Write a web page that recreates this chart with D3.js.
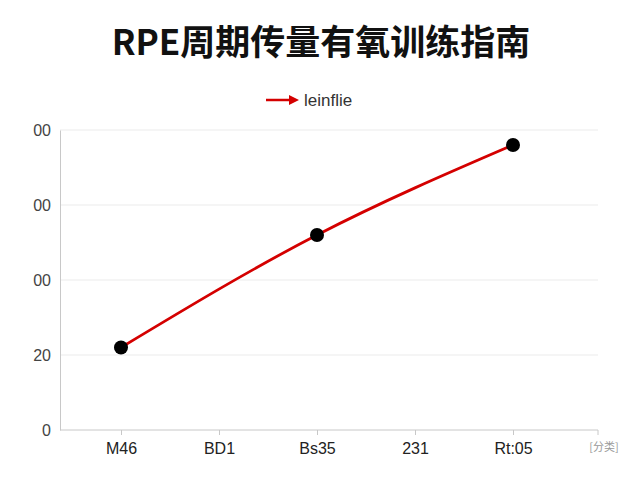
<!DOCTYPE html>
<html lang="zh">
<head>
    <meta charset="UTF-8">
    <title>RPE周期传量有氧训练指南</title>
    <script src="https://d3js.org/d3.v7.min.js"></script>
    <style>
        body { margin: 0; background: #fff; }
        text { font-family: "Noto Sans CJK SC", "Noto Sans", sans-serif; }
    </style>
</head>
<body>
<svg id="chart" width="640" height="480"></svg>

<script>
    const width = 640;
    const height = 480;

    // data
    const categories = ["M46", "BD1", "Bs35", "231", "Rt:05"];
    const seriesName = "leinflie";
    const pointCats = ["M46", "Bs35", "Rt:05"];
    const pointValues = [22, 52, 76];
    const yTicks = [0, 20, 40, 60, 80];
    const yTickLabels = ["0", "20", "00", "00", "00"];
    const endLabel = "[分类]";

    const svg = d3.select("#chart");

    const plotLeft = 60, plotRight = 598, plotTop = 130, plotBottom = 430;

    const x = d3.scalePoint().domain(categories).range([121, 513]);
    const y = d3.scaleLinear().domain([0, 80]).range([plotBottom, plotTop]);

    // title
    svg.append("text")
        .attr("x", width / 2 + 1)
        .attr("y", 55)
        .attr("text-anchor", "middle")
        .style("font-size", "35px")
        .style("font-weight", "bold")
        .style("fill", "#111")
        .text("RPE周期传量有氧训练指南");

    // legend
    const defs = svg.append("defs");
    defs.append("marker")
        .attr("id", "arrow")
        .attr("viewBox", "0 0 10 10")
        .attr("refX", 5).attr("refY", 5)
        .attr("markerWidth", 4).attr("markerHeight", 4)
        .attr("orient", "auto")
        .append("path")
        .attr("d", "M0,0L10,5L0,10z")
        .attr("fill", "#d40000");

    svg.append("line")
        .attr("x1", 266).attr("x2", 294)
        .attr("y1", 100).attr("y2", 100)
        .attr("stroke", "#d40000")
        .attr("stroke-width", 2.5)
        .attr("marker-end", "url(#arrow)");
    svg.append("text")
        .attr("x", 304).attr("y", 106)
        .style("font-size", "17px")
        .style("fill", "#333")
        .style("font-family", "'Liberation Sans', Arial, sans-serif")
        .text(seriesName);

    // gridlines
    svg.append("g")
        .selectAll("line")
        .data(yTicks.slice(1))
        .enter()
        .append("line")
        .attr("x1", plotLeft).attr("x2", plotRight)
        .attr("y1", d => y(d)).attr("y2", d => y(d))
        .attr("stroke", "#ebebeb");

    // y axis
    const yAxis = svg.append("g")
        .attr("transform", `translate(${plotLeft},0)`)
        .call(d3.axisLeft(y).tickValues(yTicks).tickSize(0).tickPadding(9)
            .tickFormat((d, i) => yTickLabels[i]));
    yAxis.select(".domain").attr("stroke", "#c8c8c8");
    yAxis.selectAll("text")
        .style("font-size", "16px")
        .style("fill", "#444")
        .style("font-family", "'Liberation Sans', Arial, sans-serif");

    // x axis
    const xAxis = svg.append("g")
        .attr("transform", `translate(0,${plotBottom})`)
        .call(d3.axisBottom(x).tickSize(5).tickPadding(8));
    xAxis.select(".domain").remove();
    xAxis.append("line")
        .attr("x1", plotLeft).attr("x2", plotRight)
        .attr("stroke", "#c8c8c8");
    xAxis.selectAll(".tick line").attr("stroke", "#c8c8c8");
    xAxis.selectAll("text")
        .style("font-size", "16px")
        .style("fill", "#222")
        .style("font-family", "'Liberation Sans', Arial, sans-serif");

    // end tick + label
    xAxis.append("line")
        .attr("x1", plotRight).attr("x2", plotRight)
        .attr("y1", 0).attr("y2", 5)
        .attr("stroke", "#c8c8c8");
    xAxis.append("text")
        .attr("x", plotRight + 6).attr("y", 21)
        .attr("text-anchor", "middle")
        .style("font-size", "11px")
        .style("fill", "#999")
        .text(endLabel);

    // line + markers
    const pts = pointCats.map((c, i) => [x(c), y(pointValues[i])]);
    const line = d3.line().curve(d3.curveMonotoneX);

    svg.append("path")
        .attr("d", line(pts))
        .attr("fill", "none")
        .attr("stroke", "#d40000")
        .attr("stroke-width", 2.8);

    svg.append("g")
        .selectAll("circle")
        .data(pts)
        .enter()
        .append("circle")
        .attr("cx", d => d[0])
        .attr("cy", d => d[1])
        .attr("r", 7)
        .attr("fill", "#000");
</script>
</body>
</html>
